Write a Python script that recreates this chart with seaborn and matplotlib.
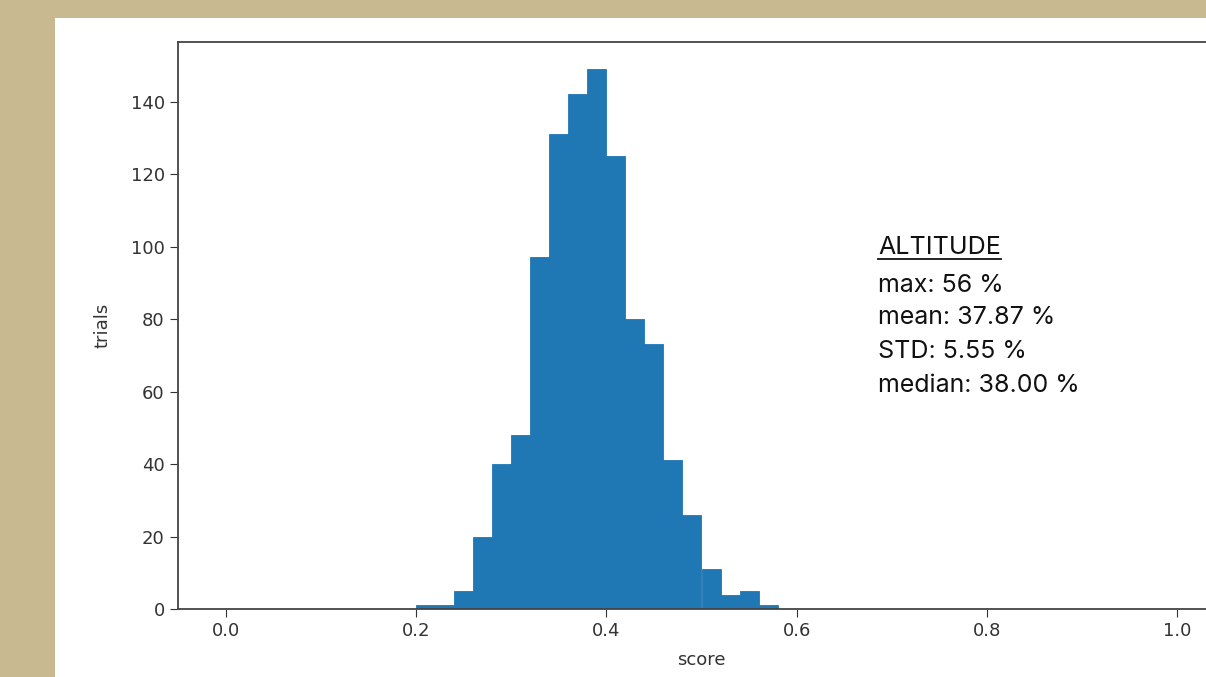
import numpy as np
import matplotlib
matplotlib.use("Agg")
import matplotlib.pyplot as plt
import seaborn as sns
from matplotlib.lines import Line2D
from matplotlib.patches import Rectangle

# histogram counts (bin width 0.02, 1000 trials)
bin_edges = [0.20, 0.22, 0.24, 0.26, 0.28, 0.30, 0.32, 0.34, 0.36, 0.38,
             0.40, 0.42, 0.44, 0.46, 0.48, 0.50, 0.52, 0.54, 0.56, 0.58]
counts = [1, 1, 5, 20, 40, 48, 97, 131, 142, 149,
          125, 80, 73, 41, 26, 11, 4, 5, 1]
x_ticks = [0.0, 0.2, 0.4, 0.6, 0.8, 1.0]
y_ticks = [0, 20, 40, 60, 80, 100, 120, 140]
stats_title = "ALTITUDE"
stats_lines = ["max: 56 %", "mean: 37.87 %", "STD: 5.55 %", "median: 38.00 %"]

W, H = 1206, 677
fig = plt.figure(figsize=(W / 100, H / 100), dpi=100)
fig.patch.set_facecolor("#c9b991")
fig.add_artist(Rectangle((55 / W, 0), 1 - 55 / W, 1 - 18 / H,
                         transform=fig.transFigure, facecolor="white",
                         edgecolor="none", zorder=0))

ax = fig.add_axes([178 / W, 68 / H, 1047 / W, 567 / H])
ax.set_facecolor("white")

centers = [(a + b) / 2 for a, b in zip(bin_edges[:-1], bin_edges[1:])]
sns.histplot(x=centers, weights=counts, bins=bin_edges, ax=ax,
             color="#1f77b4", alpha=1, linewidth=0)
# solid edges so no seams show between neighbouring bars
for p in ax.patches:
    p.set_edgecolor("#1f77b4")
    p.set_facecolor("#1f77b4")
    p.set_linewidth(0.6)
    p.set_joinstyle("miter")

ax.set_xlim(-0.05, 1.05)
ax.set_ylim(0, 149 * 1.05)
ax.set_xticks(x_ticks)
ax.set_xticklabels([f"{t:.1f}" for t in x_ticks])
ax.set_yticks(y_ticks)
ax.set_xlabel("score", fontsize=13, color="#333333", labelpad=8)
ax.set_ylabel("trials", fontsize=13, color="#333333", labelpad=14)
ax.tick_params(labelsize=13, length=6, color="#333333", labelcolor="#333333")
for s in ax.spines.values():
    s.set_color("#444444")
    s.set_linewidth(1.3)

font = "Inter"
tx = 878 / W
title = fig.text(tx, 1 - 247 / H, stats_title, family=font, fontsize=18,
                 va="center", ha="left", color="#111111")
for i, line in enumerate(stats_lines):
    y = [285, 318, 352, 386][i]
    fig.text(tx, 1 - y / H, line, family=font, fontsize=18,
             va="center", ha="left", color="#111111")

# underline the title
fig.canvas.draw()
bb = title.get_window_extent()
fig.add_artist(Line2D([bb.x0 / W, bb.x1 / W], [1 - 259 / H, 1 - 259 / H],
                      color="#111111", linewidth=1.3))

fig.savefig("out.png", dpi=100, facecolor=fig.get_facecolor())
